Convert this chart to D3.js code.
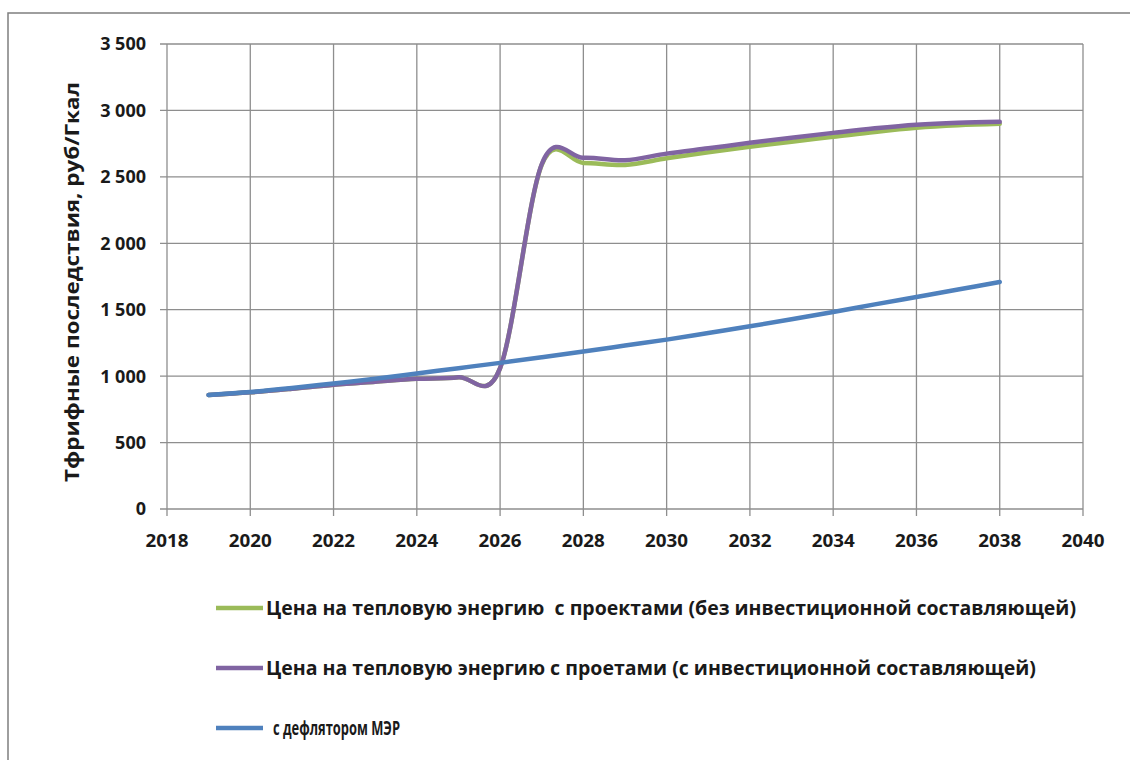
<!DOCTYPE html>
<html><head><meta charset="utf-8">
<script src="https://cdn.jsdelivr.net/npm/d3@7"></script>
<style>
html,body{margin:0;padding:0;background:#fff;}
svg{display:block;}
text{font-family:"Open Sans","Liberation Sans",sans-serif;font-weight:bold;fill:#1a1a1a;}
</style></head>
<body>
<svg id="chart" width="1130" height="760"></svg>
<script>
const years = [2019,2020,2021,2022,2023,2024,2025,2026,2027,2028,2029,2030,2031,2032,2033,2034,2035,2036,2037,2038];
const seriesNoInvest = [858,878,905,935,958,980,992,1060,2590,2605,2590,2640,2685,2726,2765,2801,2838,2869,2888,2899];
const seriesInvest   = [858,878,905,935,958,980,992,1060,2595,2643,2625,2675,2715,2756,2795,2831,2865,2892,2907,2914];
const seriesDeflator = [858,880,910,945,980,1020,1060,1100,1142,1185,1230,1275,1325,1375,1428,1483,1540,1596,1652,1709];
const seriesNames = [
  "Цена на тепловую энергию  с проектами (без инвестиционной составляющей)",
  "Цена на тепловую энергию с проетами (с инвестиционной составляющей)",
  "с дефлятором МЭР"
];
const seriesColors = ["#9BBB59","#8064A2","#4F81BD"];
const xTicks = [2018,2020,2022,2024,2026,2028,2030,2032,2034,2036,2038,2040];
const yTicks = [0,500,1000,1500,2000,2500,3000,3500];
const yTitle = "Тфрифные последствия, руб/Гкал";

const svg = d3.select("#chart");
// outer frame
svg.append("rect").attr("x",8).attr("y",13).attr("width",1140).attr("height",780)
  .attr("fill","#fff").attr("stroke","#7f7f7f").attr("stroke-width",1.5);

const x = d3.scaleLinear().domain([2018,2040]).range([167,1083]);
const y = d3.scaleLinear().domain([0,3500]).range([509,44]);

const gridColor = "#8e8e8e";
svg.append("g").selectAll("line").data(yTicks).join("line")
  .attr("x1",x(2018)-7).attr("x2",x(2040))
  .attr("y1",d=>y(d)).attr("y2",d=>y(d))
  .attr("stroke",gridColor).attr("stroke-width",1.3);
svg.append("g").selectAll("line").data(xTicks).join("line")
  .attr("x1",d=>x(d)).attr("x2",d=>x(d))
  .attr("y1",y(3500)).attr("y2",y(0)+7)
  .attr("stroke",gridColor).attr("stroke-width",1.3);

const fmt = d => d3.format(",")(d).replace(/,/g," ");
svg.append("g").selectAll("text").data(yTicks).join("text")
  .attr("x",146).attr("y",d=>y(d)).attr("dy","0.36em")
  .attr("text-anchor","end").attr("font-size",18)
  .text(fmt);
svg.append("g").selectAll("text").data(xTicks).join("text")
  .attr("x",d=>x(d)).attr("y",541).attr("dy","0.36em")
  .attr("text-anchor","middle").attr("font-size",18)
  .attr("textLength",43).attr("lengthAdjust","spacingAndGlyphs")
  .text(d=>d);

svg.append("text")
  .attr("transform","translate(72,282) rotate(-90)")
  .attr("text-anchor","middle").attr("dy","0.36em")
  .attr("font-size",19)
  .attr("textLength",400).attr("lengthAdjust","spacingAndGlyphs")
  .text(yTitle);

const line = d3.line().x(d=>x(d[0])).y(d=>y(d[1])).curve(d3.curveCatmullRom.alpha(0));
[seriesNoInvest, seriesInvest, seriesDeflator].forEach((s,i)=>{
  svg.append("path").datum(years.map((yr,j)=>[yr,s[j]]))
    .attr("d",line).attr("fill","none")
    .attr("stroke",seriesColors[i]).attr("stroke-width",4.5)
    .attr("stroke-linecap","round").attr("stroke-linejoin","round");
});

const legendRows = [
  {y:608, x0:266, len:810},
  {y:668, x0:266, len:770},
  {y:728, x0:273, len:127}
];
legendRows.forEach((r,i)=>{
  svg.append("line").attr("x1",216).attr("x2",263).attr("y1",r.y).attr("y2",r.y)
    .attr("stroke",seriesColors[i]).attr("stroke-width",4.5);
  svg.append("text").attr("x",r.x0).attr("y",r.y).attr("dy","0.36em")
    .attr("font-size",20)
    .attr("textLength",r.len).attr("lengthAdjust","spacingAndGlyphs")
    .style("white-space","pre")
    .text(seriesNames[i]);
});
</script>
</body></html>
